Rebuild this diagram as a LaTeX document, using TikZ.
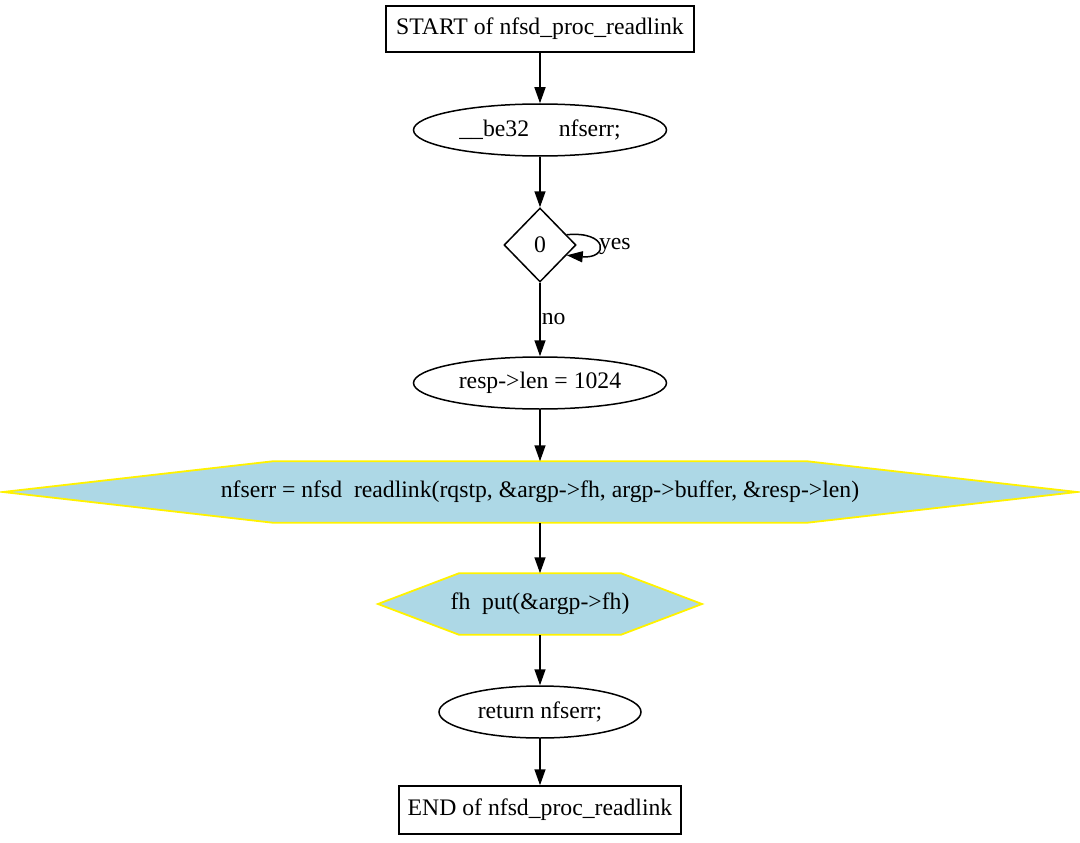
\documentclass[tikz,border=0pt]{standalone}
\usepackage{fontspec}
\setmainfont{Liberation Serif}
\usetikzlibrary{shapes.geometric,arrows.meta,backgrounds}
\definecolor{hexblue}{HTML}{ADD8E6}

\begin{document}
\begin{tikzpicture}[x=1pt, y=-1pt, line width=1.5pt,
	>={Triangle[length=16pt, width=11pt]},
	font=\fontsize{23.7}{28}\selectfont,
	box/.style = { draw, rectangle, minimum height=46pt, inner sep=0pt },
	oval/.style = { draw, ellipse, minimum width=253pt,
			minimum height=52pt, inner sep=0pt },
	test/.style = { draw, diamond, minimum width=72pt,
			minimum height=74pt, inner sep=0pt },
	call/.style = { rectangle, minimum height=60pt, inner sep=0pt },
	hexline/.style = { fill=hexblue, draw=yellow, line width=1.8pt }]

  \useasboundingbox (0,0) rectangle (1080,843);

  \node[name=start, box, minimum width=308pt] at (540,29)
	{START of nfsd\_proc\_readlink};
  \node[name=decl, oval] at (540,130) {\_\_be32~~~~~nfserr;};
  \node[name=cond, test] at (540,245) {0};
  \node[name=setlen, oval] at (540,383) {resp->len = 1024};
  \node[name=readlink, call] at (540,492)
	{nfserr = nfsd~~readlink(rqstp, \&argp->fh, argp->buffer, \&resp->len)};
  \node[name=fhput, call] at (540,604) {fh~~put(\&argp->fh)};
  \node[name=ret, oval, minimum width=202pt] at (540,712) {return nfserr;};
  \node[name=finish, box, minimum width=282pt, minimum height=48pt]
	at (540,810) {END of nfsd\_proc\_readlink};

  % hexagons behind the call nodes
  \begin{scope}[on background layer]
    \draw[hexline] ([xshift=-267pt]readlink.north) -- ([xshift=267pt]readlink.north)
	-- ([xshift=537pt]readlink.center) -- ([xshift=267pt]readlink.south)
	-- ([xshift=-267pt]readlink.south) -- ([xshift=-537pt]readlink.center) -- cycle;
    \draw[hexline] ([xshift=-81pt]fhput.north) -- ([xshift=81pt]fhput.north)
	-- ([xshift=162pt]fhput.center) -- ([xshift=81pt]fhput.south)
	-- ([xshift=-81pt]fhput.south) -- ([xshift=-162pt]fhput.center) -- cycle;
  \end{scope}

  \draw [->] (start) -- (decl);
  \draw [->] (decl) -- (cond);
  \draw [->] (cond.21) .. controls +(42,-4) and +(42,4) ..
	 node[right, inner sep=0pt, yshift=-1pt] {yes} (cond.-21);
  \draw [->] (cond) -- node[right, inner sep=1pt] {no} (setlen);
  \draw [->] (setlen) -- (readlink);
  \draw [->] (readlink) -- (fhput);
  \draw [->] (fhput) -- (ret);
  \draw [->] (ret) -- (finish);
\end{tikzpicture}
\end{document}
